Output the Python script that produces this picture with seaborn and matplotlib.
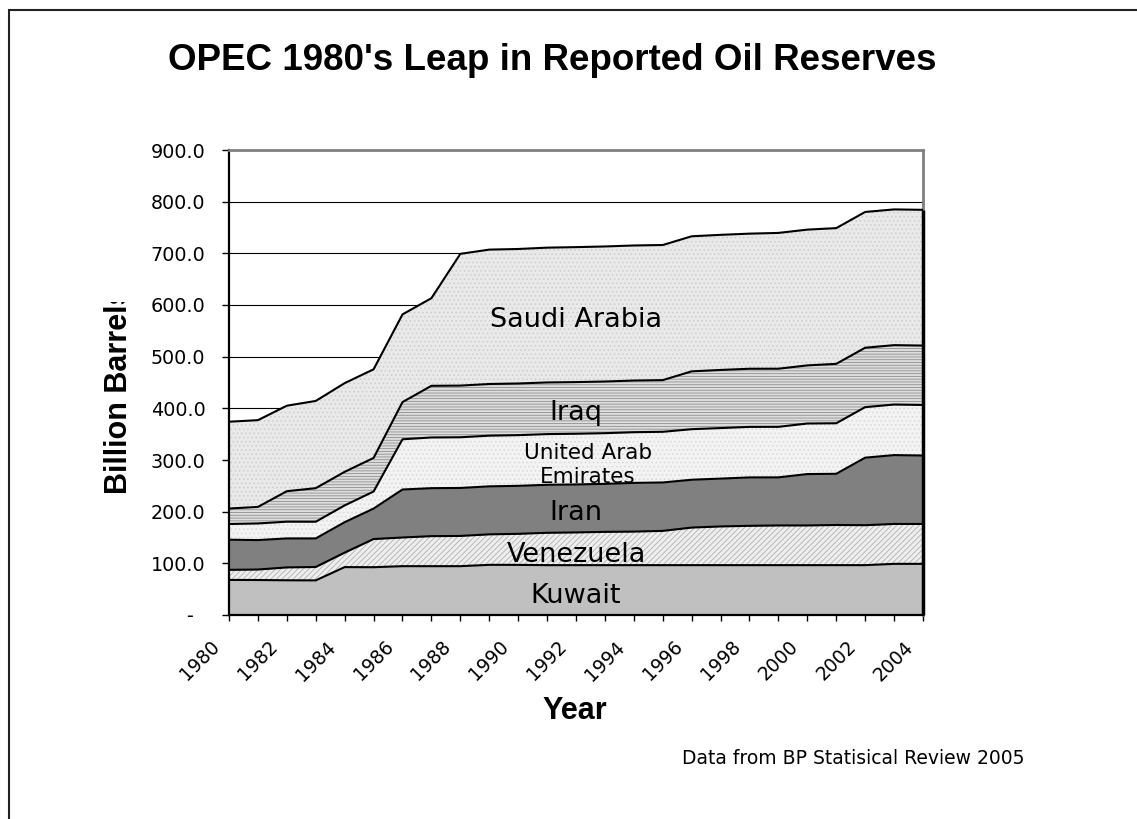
import numpy as np
import pandas as pd
import matplotlib
matplotlib.use("Agg")
import matplotlib.pyplot as plt
import seaborn as sns
from matplotlib.transforms import ScaledTranslation, Bbox, TransformedBbox
from matplotlib.patches import Rectangle

# ---------------- data (billion barrels, BP Statistical Review 2005) -------------
years = list(range(1980, 2005))
kuwait = [67.9, 67.7, 67.2, 67.0, 92.7, 92.5, 94.5, 94.5, 94.5, 97.1, 97.0, 96.5, 96.5,
          96.5, 96.5, 96.5, 96.5, 96.5, 96.5, 96.5, 96.5, 96.5, 96.5, 99.0, 99.0]
venezuela = [19.5, 20.3, 24.9, 25.9, 28.0, 54.5, 55.5, 58.1, 58.5, 59.0, 60.1, 62.6, 63.3,
             64.4, 64.9, 66.3, 72.7, 74.9, 76.1, 76.8, 76.8, 77.7, 77.3, 77.2, 77.2]
iran = [58.3, 57.0, 56.1, 55.3, 58.9, 59.0, 92.9, 92.9, 92.9, 92.9, 92.9, 92.9, 92.9,
        92.9, 94.3, 93.7, 92.6, 92.6, 93.7, 93.1, 99.5, 99.1, 130.7, 133.3, 132.5]
uae = [30.4, 32.2, 32.4, 32.3, 32.5, 33.0, 97.2, 98.1, 98.1, 98.1, 98.1, 98.1, 98.1,
       98.1, 98.1, 98.1, 97.8, 97.8, 97.8, 97.8, 97.8, 97.8, 97.8, 97.8, 97.8]
iraq = [30.0, 32.0, 59.0, 65.0, 65.0, 65.0, 72.0, 100.0, 100.0, 100.0, 100.0, 100.0, 100.0,
        100.0, 100.0, 100.0, 112.0, 112.5, 112.5, 112.5, 112.5, 115.0, 115.0, 115.0, 115.0]
saudi = [168.0, 167.9, 165.5, 168.8, 171.7, 171.5, 169.7, 169.6, 255.0, 260.1, 260.3, 260.9,
         261.2, 261.4, 261.4, 261.5, 261.4, 261.5, 261.5, 262.8, 262.8, 262.7, 262.8, 262.7, 262.7]

series_names = ["Kuwait", "Venezuela", "Iran", "United Arab\nEmirates", "Iraq", "Saudi Arabia"]
series_values = [kuwait, venezuela, iran, uae, iraq, saudi]

y_ticks = list(range(0, 901, 100))
y_tick_labels = ["-\u2007"] + [f"{v:.1f}" for v in y_ticks[1:]]
x_tick_labels = [str(y) if y % 2 == 0 else "" for y in years]

title = "OPEC 1980's Leap in Reported Oil Reserves"
x_title = "Year"
y_title = "Billion Barrels"
caption = "Data from BP Statisical Review 2005"

# ---------------- styling ----------------
sns.set_style("white")
plt.rcParams["font.family"] = ["DejaVu Sans"]
plt.rcParams["hatch.linewidth"] = 0.6
plt.rcParams["text.color"] = "black"
plt.rcParams["axes.labelcolor"] = "black"
plt.rcParams["xtick.color"] = "black"
plt.rcParams["ytick.color"] = "black"

styles = {
    "Kuwait": dict(face="#c0c0c0", hatch=None, hcol="#c0c0c0"),
    "Venezuela": dict(face="#eeeeee", hatch="//////", hcol="#b0b0b0"),
    "Iran": dict(face="#808080", hatch=None, hcol="#808080"),
    "United Arab\nEmirates": dict(face="#f3f3f3", hatch="....", hcol="#d8d8d8"),
    "Iraq": dict(face="#dedede", hatch="------", hcol="#8e8e8e"),
    "Saudi Arabia": dict(face="#e9e9e9", hatch="....", hcol="#cccccc"),
}
label_pos = {
    "Kuwait": (1992, 23, 19.5),
    "Venezuela": (1992, 103, 19.5),
    "Iran": (1992, 184, 19.5),
    "United Arab\nEmirates": (1992.4, 255, 15.5),
    "Iraq": (1992, 377, 19.5),
    "Saudi Arabia": (1992, 557, 19.5),
}

W, H = 1137, 819
fig = plt.figure(figsize=(W / 100, H / 100), dpi=100)
fig.patch.set_facecolor("white")
ax = fig.add_axes([229 / W, 1 - 615 / H, 694 / W, 465 / H])
ax.set_facecolor("white")

bottom = np.zeros(len(years))
rows = []
for name, vals in zip(series_names, series_values):
    top = bottom + np.array(vals)
    st = styles[name]
    ax.fill_between(years, bottom, top, facecolor=st["face"], edgecolor=st["hcol"],
                    hatch=st["hatch"], linewidth=0, zorder=2)
    for yr, t in zip(years, top):
        rows.append({"year": yr, "top": t, "series": name})
    bottom = top

df = pd.DataFrame(rows)
sns.lineplot(data=df, x="year", y="top", hue="series", palette=["black"] * len(series_names),
             legend=False, linewidth=1.5, ax=ax, zorder=4)
ax.vlines([years[-1]], 0, bottom[-1], color="black", linewidth=2.5, zorder=5, clip_on=False)

for name in series_names:
    x, y, fs = label_pos[name]
    ax.text(x, y, name, ha="center", va="baseline", fontsize=fs, color="black",
            zorder=6, linespacing=1.25)

ax.set_xlim(years[0], years[-1])
ax.set_ylim(0, 900)
ax.set_xticks(years)
ax.set_xticklabels(x_tick_labels, rotation=45, ha="right", va="top",
                   rotation_mode="anchor", fontsize=13.5)
ax.set_yticks(y_ticks)
ax.set_yticklabels(y_tick_labels, fontsize=13.8)
ax.tick_params(axis="x", direction="out", length=4, width=1, color="black", pad=12,
               bottom=True, labelcolor="black")
ax.tick_params(axis="y", direction="out", length=5, width=1, color="black", pad=12,
               left=True, labelcolor="black")
offset = ScaledTranslation(-0.19, 0, fig.dpi_scale_trans)
for lab in ax.get_xticklabels():
    lab.set_transform(lab.get_transform() + offset)

ax.yaxis.grid(True, color="black", linewidth=0.8)
ax.xaxis.grid(False)
ax.set_axisbelow(True)
for side in ["left", "bottom"]:
    ax.spines[side].set_color("black")
    ax.spines[side].set_linewidth(1.6)
for side in ["top", "right"]:
    ax.spines[side].set_color("#808080")
    ax.spines[side].set_linewidth(2.0)
    ax.spines[side].set_visible(True)
ax.set_xlabel("")
ax.set_ylabel("")

fig.text(552.5 / W, 1 - 61 / H, title, ha="center", va="center", fontsize=26.5,
         fontweight="bold", family=["Liberation Sans", "DejaVu Sans"], color="black")
fig.text(575 / W, 1 - 711 / H, x_title, ha="center", va="center", fontsize=22,
         fontweight="bold", family=["Liberation Sans", "DejaVu Sans"], color="black")
yl = fig.text(119 / W, 1 - 391 / H, y_title, ha="center", va="center", rotation=90,
              fontsize=22, fontweight="bold", family=["Liberation Sans", "DejaVu Sans"],
              color="black")
yl.set_clip_box(TransformedBbox(Bbox([[0, 0], [1, 1 - 302 / H]]), fig.transFigure))
yl.set_clip_on(True)
fig.text(682 / W, 1 - 758 / H, caption, ha="left", va="center", fontsize=13.5, color="black")

border = Rectangle((9 / W, -0.1), 1.2, 1.1 - 10 / H, transform=fig.transFigure,
                   fill=False, edgecolor="#222222", linewidth=1.5, figure=fig)
fig.patches.append(border)

fig.savefig("out.png", dpi=100)
